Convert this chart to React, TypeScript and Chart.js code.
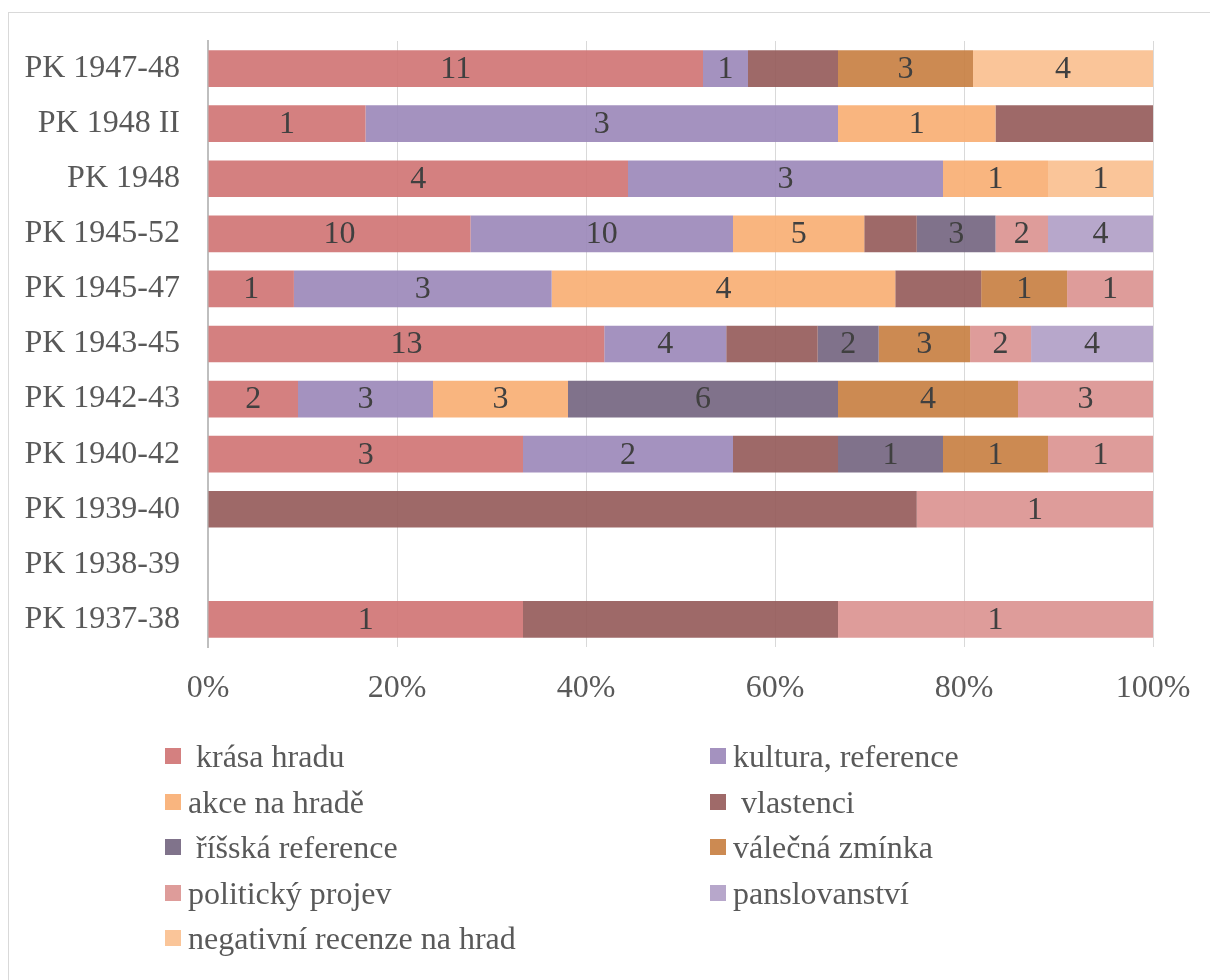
import React, { useEffect, useRef } from "react";
import { Chart, registerables } from "chart.js";

Chart.register(...registerables);

const categories = [
  "PK 1947-48",
  "PK 1948 II",
  "PK 1948",
  "PK 1945-52",
  "PK 1945-47",
  "PK 1943-45",
  "PK 1942-43",
  "PK 1940-42",
  "PK 1939-40",
  "PK 1938-39",
  "PK 1937-38",
];

const seriesNames = [
  " krása hradu",
  "kultura, reference",
  "akce na hradě",
  " vlastenci",
  " říšská reference",
  "válečná zmínka",
  "politický projev",
  "panslovanství",
  "negativní recenze na hrad",
];

const krasaHradu = [11, 1, 4, 10, 1, 13, 2, 3, 0, 0, 1];
const kulturaReference = [1, 3, 3, 10, 3, 4, 3, 2, 0, 0, 0];
const akceNaHrade = [0, 1, 1, 5, 4, 0, 3, 0, 0, 0, 0];
const vlastenci = [2, 1, 0, 2, 1, 3, 0, 1, 3, 0, 1];
const risskaReference = [0, 0, 0, 3, 0, 2, 6, 1, 0, 0, 0];
const valecnaZminka = [3, 0, 0, 0, 1, 3, 4, 1, 0, 0, 0];
const politickyProjev = [0, 0, 0, 2, 1, 2, 3, 1, 1, 0, 1];
const panslovanstvi = [0, 0, 0, 4, 0, 4, 0, 0, 0, 0, 0];
const negativniRecenze = [4, 0, 1, 0, 0, 0, 0, 0, 0, 0, 0];

const seriesValues = [
  krasaHradu,
  kulturaReference,
  akceNaHrade,
  vlastenci,
  risskaReference,
  valecnaZminka,
  politickyProjev,
  panslovanstvi,
  negativniRecenze,
];

// whether the value labels are shown inside that series' bars
const showValueLabels = [true, true, true, false, true, true, true, true, true];

const xTickValues = [0, 20, 40, 60, 80, 100];

// displayed (composited on white) colours
const seriesColors = [
  "#D48080",
  "#A492BF",
  "#F9B57F",
  "#9F6A69",
  "#80738B",
  "#CC8A52",
  "#DE9C9A",
  "#B7A7CB",
  "#FAC599",
];

const FONT = '"Liberation Serif", "Times New Roman", serif';
const FONT_SIZE = 32;
const ALPHA = 0.9;

function translucent(hex: string, a: number): string {
  const n = parseInt(hex.slice(1), 16);
  const ch = [(n >> 16) & 255, (n >> 8) & 255, n & 255].map((d) =>
    Math.max(0, Math.min(255, Math.round((d - 255 * (1 - a)) / a)))
  );
  return `rgba(${ch[0]},${ch[1]},${ch[2]},${a})`;
}

const totals = categories.map((_, j) =>
  seriesValues.reduce((s, arr) => s + arr[j], 0)
);

const valueLabelPlugin = {
  id: "valueLabels",
  afterDatasetsDraw(chart: any) {
    const ctx = chart.ctx;
    ctx.save();
    ctx.font = `${FONT_SIZE}px ${FONT}`;
    ctx.fillStyle = "#404040";
    ctx.textAlign = "center";
    ctx.textBaseline = "middle";
    chart.data.datasets.forEach((ds: any, i: number) => {
      if (!showValueLabels[i]) return;
      const meta = chart.getDatasetMeta(i);
      meta.data.forEach((el: any, j: number) => {
        const v = seriesValues[i][j];
        if (!v) return;
        const p = el.getProps(["x", "y", "base"], true);
        ctx.fillText(String(v), (p.x + p.base) / 2, p.y + 1);
      });
    });
    ctx.restore();
  },
};

export default function App() {
  const canvasRef = useRef<HTMLCanvasElement | null>(null);

  useEffect(() => {
    if (!canvasRef.current) return;
    const chart = new Chart(canvasRef.current, {
      type: "bar",
      data: {
        labels: categories,
        datasets: seriesNames.map((name, i) => ({
          label: name,
          data: seriesValues[i].map((v, j) =>
            totals[j] ? (v / totals[j]) * 100 : 0
          ),
          backgroundColor: translucent(seriesColors[i], ALPHA),
          borderWidth: 0,
          categoryPercentage: 0.666,
          barPercentage: 1,
        })),
      },
      options: {
        indexAxis: "y",
        responsive: false,
        animation: false,
        events: [],
        layout: { padding: { top: 41, right: 57, left: 0, bottom: 273 } },
        plugins: {
          legend: { display: false },
          tooltip: { enabled: false },
          title: { display: false },
        },
        scales: {
          x: {
            stacked: true,
            min: 0,
            max: 100,
            afterBuildTicks: (scale: any) => {
              scale.ticks = xTickValues.map((v) => ({ value: v }));
            },
            afterFit: (scale: any) => {
              scale.height = 60;
              scale.paddingLeft = 0;
              scale.paddingRight = 0;
            },
            ticks: {
              callback: (v: any) => `${v}%`,
              font: { family: FONT, size: FONT_SIZE },
              color: "#595959",
              padding: 22,
              maxRotation: 0,
            },
            grid: { color: "#d9d9d9", lineWidth: 1, drawTicks: false },
            border: { display: false },
          },
          y: {
            stacked: true,
            afterFit: (scale: any) => {
              scale.width = 208;
              scale.paddingTop = 0;
              scale.paddingBottom = 0;
            },
            ticks: {
              font: { family: FONT, size: FONT_SIZE },
              color: "#595959",
              padding: 28,
            },
            grid: { display: false, drawTicks: false },
            border: { display: true, color: "#bfbfbf", width: 2 },
          },
        },
      },
      plugins: [valueLabelPlugin],
    });
    return () => chart.destroy();
  }, []);

  const legendRowsY = [756, 802, 847, 893, 938];
  const legendColsX = [165, 710];

  return (
    <div
      style={{
        position: "fixed",
        left: 0,
        top: 0,
        width: 1210,
        height: 980,
        overflow: "hidden",
        background: "#fff",
      }}
    >
      <div
        style={{
          position: "absolute",
          left: 8,
          top: 12,
          width: 1240,
          height: 1000,
          border: "1px solid #d9d9d9",
          boxSizing: "border-box",
        }}
      />
      <canvas
        ref={canvasRef}
        width={1210}
        height={980}
        style={{ position: "absolute", left: 0, top: 0, width: 1210, height: 980 }}
      />
      {seriesNames.map((name, i) => {
        const row = Math.floor(i / 2);
        const col = i % 2;
        const cy = legendRowsY[row];
        const x = legendColsX[col];
        return (
          <div key={name}>
            <div
              style={{
                position: "absolute",
                left: x,
                top: cy - 8,
                width: 16,
                height: 16,
                background: seriesColors[i],
              }}
            />
            <div
              style={{
                position: "absolute",
                left: x + 23,
                top: cy - 20,
                height: 40,
                lineHeight: "40px",
                fontFamily: FONT,
                fontSize: FONT_SIZE,
                color: "#595959",
                whiteSpace: "pre",
              }}
            >
              {name}
            </div>
          </div>
        );
      })}
    </div>
  );
}
